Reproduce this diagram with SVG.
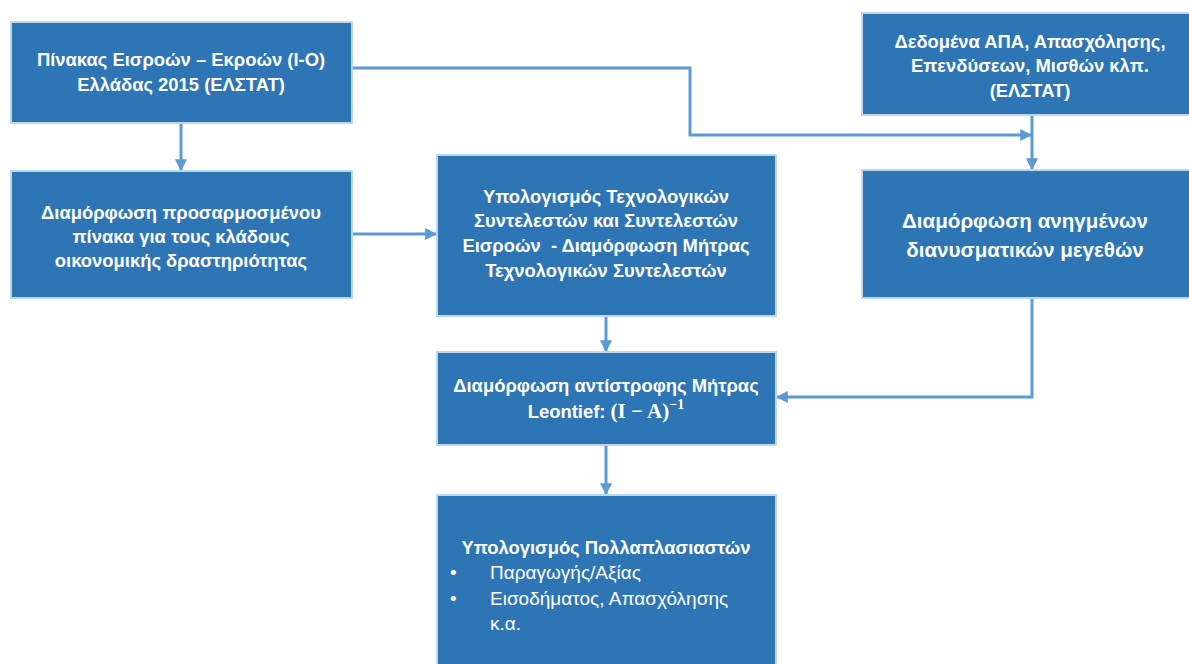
<svg xmlns="http://www.w3.org/2000/svg" width="1189" height="664" viewBox="0 0 1189 664">
<defs>
<style>
.box{fill:#2E75B6;stroke:#BDD7EE;stroke-width:2}
.t{font-family:"Liberation Sans",Arial,sans-serif;font-weight:bold;font-size:18.4px;fill:#FFFFFF;text-anchor:middle}
.tl{font-family:"Liberation Sans",Arial,sans-serif;font-size:19px;fill:#FFFFFF}
.big{font-size:20.6px}
.m{font-family:"Liberation Serif","Times New Roman",serif;font-weight:bold}
.c{fill:none;stroke:#5B9BD5;stroke-width:3;marker-end:url(#ah)}
</style>
<marker id="ah" viewBox="0 0 10 10" refX="9" refY="5" markerWidth="4" markerHeight="4" orient="auto" markerUnits="strokeWidth">
<path d="M0,0 L10,5 L0,10 z" fill="#5B9BD5"/>
</marker>
</defs>
<rect width="1189" height="664" fill="#FFFFFF"/>
<g id="connectors">
<path class="c" d="M181,123 V170"/>
<path class="c" d="M352,68 H690 V135 H1031"/>
<path class="c" d="M1032,115 V169"/>
<path class="c" d="M352,234 H436"/>
<path class="c" d="M606,316 V351"/>
<path class="c" d="M1032,298 V397 H777"/>
<path class="c" d="M606,445 V494"/>
</g>
<g id="n1">
<rect class="box" x="11" y="22" width="341" height="101"/>
<text class="t" x="181" y="66">Πίνακας Εισροών – Εκροών (I-O)</text>
<text class="t" x="181" y="91">Ελλάδας 2015 (ΕΛΣΤΑΤ)</text>
</g>
<g id="n2">
<rect class="box" x="11" y="171" width="341" height="127"/>
<text class="t" x="181" y="219">Διαμόρφωση προσαρμοσμένου</text>
<text class="t" x="181" y="243">πίνακα για τους κλάδους</text>
<text class="t" x="181" y="267">οικονομικής δραστηριότητας</text>
</g>
<g id="n3">
<rect class="box" x="437" y="155" width="339" height="161"/>
<text class="t" x="606" y="203">Υπολογισμός Τεχνολογικών</text>
<text class="t" x="606" y="227">Συντελεστών και Συντελεστών</text>
<text class="t" x="606" y="252" xml:space="preserve">Εισροών  - Διαμόρφωση Μήτρας</text>
<text class="t" x="606" y="277">Τεχνολογικών Συντελεστών</text>
</g>
<g id="n4">
<rect class="box" x="862" y="13" width="330" height="102"/>
<text class="t" x="1030" y="48">Δεδομένα ΑΠΑ, Απασχόλησης,</text>
<text class="t" x="1030" y="72">Επενδύσεων, Μισθών κλπ.</text>
<text class="t" x="1030" y="97">(ΕΛΣΤΑΤ)</text>
</g>
<g id="n5">
<rect class="box" x="862" y="170" width="330" height="128"/>
<text class="t big" x="1025" y="228">Διαμόρφωση ανηγμένων</text>
<text class="t big" x="1025" y="257">διανυσματικών μεγεθών</text>
</g>
<g id="n6">
<rect class="box" x="437" y="352" width="339" height="93"/>
<text class="t" x="606" y="392">Διαμόρφωση αντίστροφης Μήτρας</text>
<text class="t" x="606" y="418">Leontief: <tspan class="m" font-size="21">(I − A)</tspan><tspan class="m" font-size="14" dy="-9">−1</tspan></text>
</g>
<g id="n7">
<rect class="box" x="437" y="495" width="339" height="180"/>
<text class="t" x="606" y="554">Υπολογισμός Πολλαπλασιαστών</text>
<text class="tl" x="450" y="579">•</text>
<text class="tl" x="490" y="579">Παραγωγής/Αξίας</text>
<text class="tl" x="450" y="605">•</text>
<text class="tl" x="490" y="605">Εισοδήματος, Απασχόλησης</text>
<text class="tl" x="490" y="630">κ.α.</text>
</g>
</svg>
